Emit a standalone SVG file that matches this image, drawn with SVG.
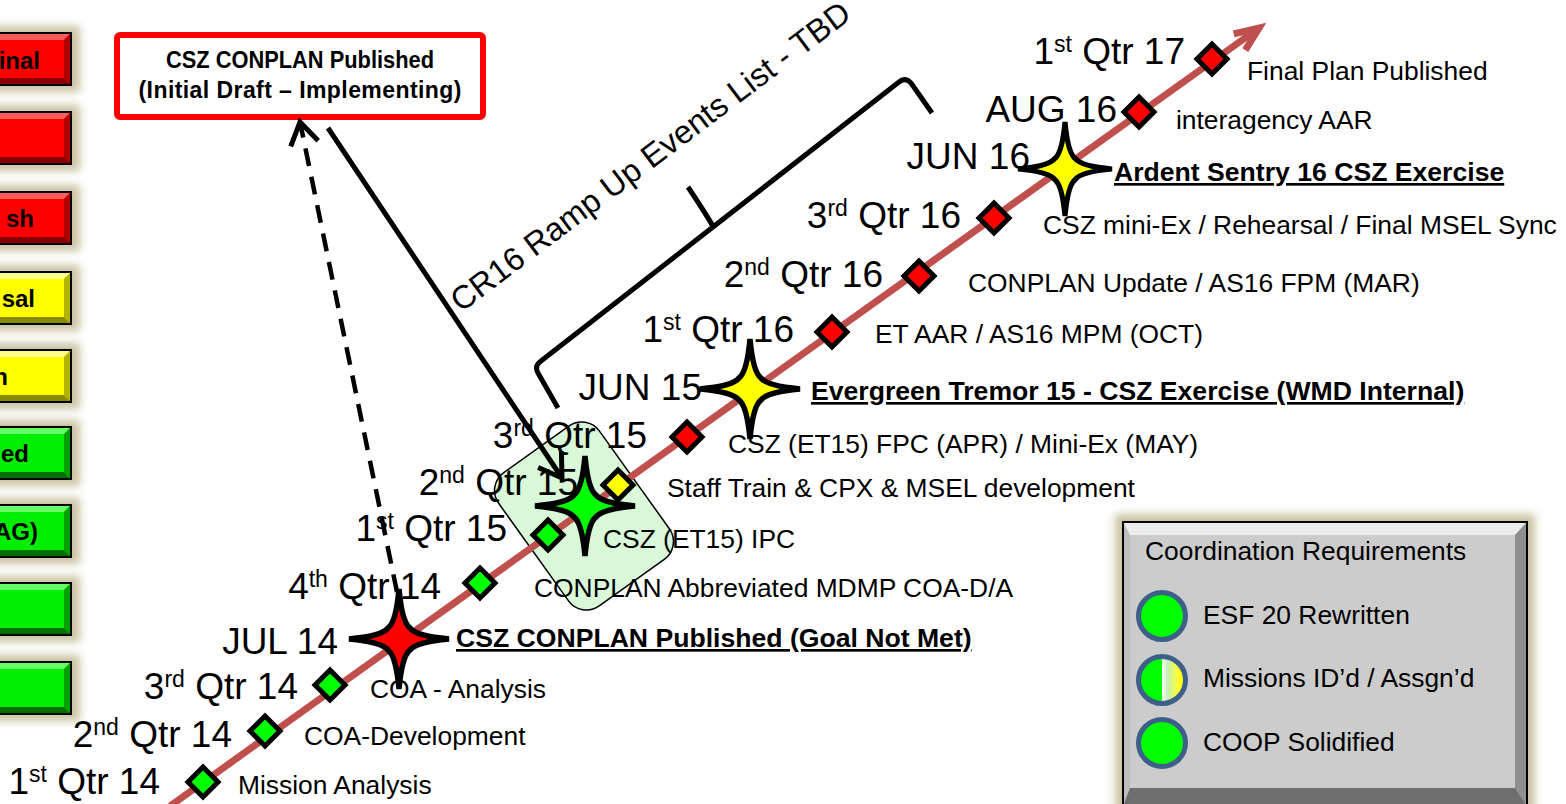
<svg xmlns="http://www.w3.org/2000/svg" xmlns:xlink="http://www.w3.org/1999/xlink" width="1566" height="804" viewBox="0 0 1566 804">
<style>
text{font-family:"Liberation Sans",Arial,sans-serif;fill:#000}
.q{font-size:37px;text-anchor:end}
.sup{font-size:23px}
.ev{font-size:26.4px}
.evb{font-size:26.6px;font-weight:bold;text-decoration:underline}
.btxt{font-size:24px;font-weight:bold;text-anchor:end}
.glow{fill:#c9c2a2;filter:url(#blur)}
.bd{fill:none;stroke:#000;stroke-width:2}
.dia{stroke:#000;stroke-width:5;stroke-linejoin:miter}
.star{stroke:#000;stroke-width:5.5;stroke-linejoin:miter}
.circ{stroke:#3e5f8a;stroke-width:5}
</style>
<defs>
<filter id="blur" x="-30%" y="-30%" width="160%" height="160%"><feGaussianBlur stdDeviation="4"/></filter>
<marker id="openArrow" viewBox="-30 -20 40 40" refX="0" refY="0" markerWidth="40" markerHeight="40" markerUnits="userSpaceOnUse" orient="auto" overflow="visible">
<path d="M-22,-14 L0,0 L-22,14" fill="none" stroke="#000" stroke-width="5" stroke-linejoin="miter"/>
</marker>
<marker id="redArrow" viewBox="-40 -20 60 40" refX="0" refY="0" markerWidth="60" markerHeight="40" markerUnits="userSpaceOnUse" orient="auto" overflow="visible">
<path d="M-24,-10 L0,0 L-24,10" fill="none" stroke="#c0504d" stroke-width="7" stroke-linejoin="miter"/>
</marker>
<linearGradient id="halfGrad" x1="0" y1="0" x2="1" y2="0">
<stop offset="0" stop-color="#00ff00"/><stop offset="0.5" stop-color="#00ff00"/><stop offset="0.5" stop-color="#ffffff"/><stop offset="0.62" stop-color="#c6efb8"/><stop offset="0.85" stop-color="#ffff30"/><stop offset="1" stop-color="#ffff00"/>
</linearGradient>
<path id="star4" d="M0,-50 Q3,-17 11,-11 Q17,-3 50,0 Q17,3 11,11 Q3,17 0,50 Q-3,17 -11,11 Q-17,3 -50,0 Q-17,-3 -11,-11 Q-3,-17 0,-50 Z"/>
<path id="dia" d="M0,-15 L15,0 L0,15 L-15,0 Z"/>
<g id="bRed">
<rect x="-14" y="-7" width="94" height="66" class="glow"/>
<rect x="-10" y="0" width="81" height="52" fill="#ff0000"/>
<polygon points="-10,0 71,0 64,7 -10,7" fill="#ff5c5c"/>
<polygon points="71,0 71,52 64,45 64,7" fill="#b00000"/>
<polygon points="-10,52 71,52 64,45 -10,45" fill="#880000"/>
<rect x="-10" y="0" width="81" height="52" class="bd"/>
</g>
<g id="bYel">
<rect x="-14" y="-7" width="94" height="66" class="glow"/>
<rect x="-10" y="0" width="81" height="52" fill="#ffff00"/>
<polygon points="-10,0 71,0 64,7 -10,7" fill="#ffff8c"/>
<polygon points="71,0 71,52 64,45 64,7" fill="#b3b300"/>
<polygon points="-10,52 71,52 64,45 -10,45" fill="#8a8a00"/>
<rect x="-10" y="0" width="81" height="52" class="bd"/>
</g>
<g id="bGrn">
<rect x="-14" y="-7" width="94" height="66" class="glow"/>
<rect x="-10" y="0" width="81" height="52" fill="#00ee00"/>
<polygon points="-10,0 71,0 64,7 -10,7" fill="#66ff66"/>
<polygon points="71,0 71,52 64,45 64,7" fill="#00a000"/>
<polygon points="-10,52 71,52 64,45 -10,45" fill="#007000"/>
<rect x="-10" y="0" width="81" height="52" class="bd"/>
</g>
</defs>
<rect x="0" y="0" width="1566" height="804" fill="#ffffff"/>

<!-- left status buttons -->
<g id="btn1"><use href="#bRed" y="33"/><text class="btxt" x="40" y="69">inal</text></g>
<g id="btn2"><use href="#bRed" y="112"/></g>
<g id="btn3"><use href="#bRed" y="192"/><text class="btxt" x="34" y="227">sh</text></g>
<g id="btn4"><use href="#bYel" y="272"/><text class="btxt" x="35" y="307">sal</text></g>
<g id="btn5"><use href="#bYel" y="350"/><text class="btxt" x="8" y="385">n</text></g>
<g id="btn6"><use href="#bGrn" y="427"/><text class="btxt" x="29" y="462">ed</text></g>
<g id="btn7"><use href="#bGrn" y="505"/><text class="btxt" x="38" y="540">AG)</text></g>
<g id="btn8"><use href="#bGrn" y="583"/></g>
<g id="btn9"><use href="#bGrn" y="662"/></g>

<!-- highlight region around Q1/Q2 15 -->
<g id="highlight">
<rect x="-62" y="-82" width="124" height="164" rx="22" transform="translate(584,516) rotate(-35.6)" fill="#d8f8d8" stroke="#000" stroke-width="1.5"/>
</g>

<!-- timeline -->
<g id="timeline">
<line x1="170" y1="806" x2="1259" y2="28" stroke="#c0504d" stroke-width="7" marker-end="url(#redArrow)"/>
</g>

<!-- brace and ramp-up label -->
<g id="rampup">
<path d="M558,408 L538,373 Q534,366 541,361 L899,82 Q905,77 911,83 L932,113 M714,228 Q706,214 688,187" fill="none" stroke="#000" stroke-width="5" stroke-linejoin="round"/>
<text transform="translate(461,313) rotate(-37)" font-size="32.5">CR16 Ramp Up Events List - TBD</text>
</g>

<!-- callout box -->
<g id="callout">
<rect x="117" y="35" width="366" height="82" rx="3" fill="#ffffff" stroke="#ff0000" stroke-width="6"/>
<text x="300" y="68" font-size="23" font-weight="bold" text-anchor="middle" textLength="268" lengthAdjust="spacingAndGlyphs">CSZ CONPLAN Published</text>
<text x="300" y="98" font-size="23" font-weight="bold" text-anchor="middle" textLength="323" lengthAdjust="spacing">(Initial Draft – Implementing)</text>
</g>

<!-- milestones -->
<g id="m-q1-14"><use href="#dia" x="203" y="782" class="dia" fill="#00ff00"/>
<text class="q" x="160" y="794">1<tspan class="sup" dy="-12">st</tspan><tspan dy="12"> Qtr 14</tspan></text>
<text class="ev" x="238" y="794">Mission Analysis</text></g>

<g id="m-q2-14"><use href="#dia" x="265" y="731" class="dia" fill="#00ff00"/>
<text class="q" x="232" y="747">2<tspan class="sup" dy="-12">nd</tspan><tspan dy="12"> Qtr 14</tspan></text>
<text class="ev" x="304" y="745">COA-Development</text></g>

<g id="m-q3-14"><use href="#dia" x="330" y="685" class="dia" fill="#00ff00"/>
<text class="q" x="298" y="699">3<tspan class="sup" dy="-12">rd</tspan><tspan dy="12"> Qtr 14</tspan></text>
<text class="ev" x="370" y="698">COA - Analysis</text></g>

<g id="m-q4-14"><use href="#dia" x="480" y="583" class="dia" fill="#00ff00"/>
<text class="q" x="441" y="599">4<tspan class="sup" dy="-12">th</tspan><tspan dy="12"> Qtr 14</tspan></text>
<text class="ev" x="534" y="597">CONPLAN Abbreviated MDMP COA-D/A</text></g>

<g id="m-q1-15"><use href="#dia" x="548" y="535" class="dia" fill="#00ff00"/>
<text class="q" x="507" y="541">1<tspan class="sup" dy="-12">st</tspan><tspan dy="12"> Qtr 15</tspan></text>
<text class="ev" x="603" y="548">CSZ (ET15) IPC</text></g>

<g id="m-q2-15"><use href="#dia" x="618" y="485" class="dia" fill="#ffff00"/>
<text class="q" x="578" y="495">2<tspan class="sup" dy="-12">nd</tspan><tspan dy="12"> Qtr 15</tspan></text>
<text class="ev" x="667" y="497">Staff Train &amp; CPX &amp; MSEL development</text></g>

<g id="m-q3-15"><use href="#dia" x="687" y="437" class="dia" fill="#ff0000"/>
<text class="q" x="647" y="448">3<tspan class="sup" dy="-12">rd</tspan><tspan dy="12"> Qtr 15</tspan></text>
<text class="ev" x="728" y="453">CSZ (ET15) FPC (APR) / Mini-Ex (MAY)</text></g>

<g id="m-q1-16"><use href="#dia" x="832" y="332" class="dia" fill="#ff0000"/>
<text class="q" x="794" y="342">1<tspan class="sup" dy="-12">st</tspan><tspan dy="12"> Qtr 16</tspan></text>
<text class="ev" x="875" y="343">ET AAR / AS16 MPM (OCT)</text></g>

<g id="m-q2-16"><use href="#dia" x="919" y="276" class="dia" fill="#ff0000"/>
<text class="q" x="883" y="287">2<tspan class="sup" dy="-12">nd</tspan><tspan dy="12"> Qtr 16</tspan></text>
<text class="ev" x="968" y="292">CONPLAN Update / AS16 FPM (MAR)</text></g>

<g id="m-q3-16"><use href="#dia" x="994" y="218" class="dia" fill="#ff0000"/>
<text class="q" x="961" y="228">3<tspan class="sup" dy="-12">rd</tspan><tspan dy="12"> Qtr 16</tspan></text>
<text class="ev" x="1043" y="234">CSZ mini-Ex / Rehearsal / Final MSEL Sync</text></g>

<g id="m-aug-16"><use href="#dia" x="1139" y="112" class="dia" fill="#ff0000"/>
<text class="q" x="1117" y="122">AUG 16</text>
<text class="ev" x="1176" y="129">interagency AAR</text></g>

<g id="m-q1-17"><use href="#dia" x="1212" y="59" class="dia" fill="#ff0000"/>
<text class="q" x="1185" y="64">1<tspan class="sup" dy="-12">st</tspan><tspan dy="12"> Qtr 17</tspan></text>
<text class="ev" x="1247" y="80">Final Plan Published</text></g>

<!-- star events -->
<g id="s-jul-14">
<text class="q" x="338" y="654">JUL 14</text>
<text class="evb" x="456" y="647">CSZ CONPLAN Published (Goal Not Met)</text>
<use href="#star4" x="399" y="639" class="star" fill="#ff0000"/>
</g>

<g id="s-q2-15">
<use href="#star4" x="585" y="506" class="star" fill="#00ff00"/>
</g>

<g id="s-jun-15">
<text class="q" x="702" y="400">JUN 15</text>
<text class="evb" x="811" y="400">Evergreen Tremor 15 - CSZ Exercise (WMD Internal)</text>
<use href="#star4" x="750" y="389" class="star" fill="#ffff00"/>
</g>

<g id="s-jun-16">
<text class="q" x="1030" y="169">JUN 16</text>
<text class="evb" x="1114" y="181">Ardent Sentry 16 CSZ Exercise</text>
<use href="#star4" transform="translate(1065,169) scale(0.94)" class="star" fill="#ffff00"/>
</g>

<!-- connectors -->
<g id="connectors">
<line x1="397" y1="592" x2="300" y2="122" stroke="#000" stroke-width="4.5" stroke-dasharray="18 11" marker-end="url(#openArrow)"/>
<line x1="328" y1="128" x2="562" y2="478" stroke="#000" stroke-width="5" marker-end="url(#openArrow)"/>
</g>

<!-- coordination requirements panel -->
<g id="coordination">
<rect x="1115" y="514" width="420" height="300" class="glow"/>
<rect x="1123" y="522" width="404" height="284" fill="#cccccc"/>
<polygon points="1123,522 1527,522 1515,535 1130,535" fill="#ececec"/>
<polygon points="1123,522 1130,535 1130,788 1123,806" fill="#bdbdbd"/>
<polygon points="1527,522 1527,806 1515,788 1515,535" fill="#8f8f8f"/>
<polygon points="1123,806 1527,806 1515,788 1130,788" fill="#6e6e6e"/>
<rect x="1123" y="522" width="404" height="284" class="bd"/>
<text class="ev" x="1145" y="560">Coordination Requirements</text>
<circle cx="1162" cy="616" r="23.5" class="circ" fill="#00ff00"/>
<text class="ev" x="1203" y="624">ESF 20 Rewritten</text>
<circle cx="1162" cy="680" r="23.5" class="circ" fill="url(#halfGrad)"/>
<text class="ev" x="1203" y="687">Missions ID’d / Assgn’d</text>
<circle cx="1162" cy="743" r="23.5" class="circ" fill="#00ff00"/>
<text class="ev" x="1203" y="751">COOP Solidified</text>
</g>
</svg>
